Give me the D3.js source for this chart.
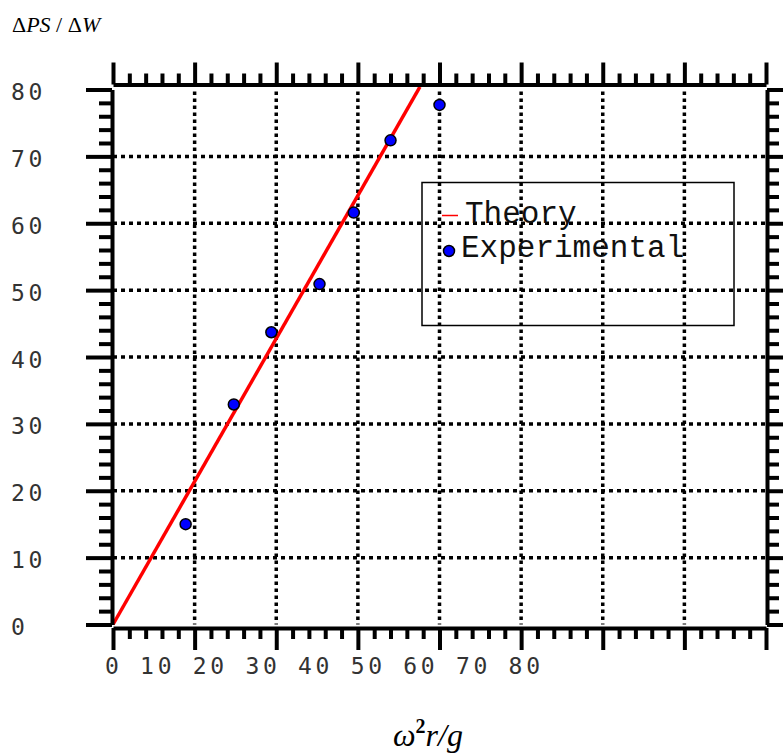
<!DOCTYPE html>
<head>
  <meta charset="utf-8">
  <script src="https://d3js.org/d3.v7.min.js"></script>
  <style>
    body { margin:0; background:#fff; }
    svg { display:block; }
  </style>
</head>
<body>
<div id="chart"></div>
<script>
  // data
  var expX = [8.9, 14.8, 19.4, 25.3, 29.5, 34.0, 40.0];
  var expY = [15.0, 32.9, 43.7, 50.9, 61.6, 72.4, 77.7];
  var theoryX = [0, 37.6];
  var theoryY = [0, 80.4];
  var xTickLabels = ["0","10","20","30","40","50","60","70","80"];
  var yTickLabels = ["0","10","20","30","40","50","60","70","80"];
  var legendNames = ["Theory", "Experimental"];

  var width = 783, height = 756;
  var x = d3.scaleLinear().domain([0, 80]).range([113, 766]);
  var y = d3.scaleLinear().domain([0, 80]).range([624.5, 89.5]);

  var svg = d3.select("#chart").append("svg")
    .attr("width", width)
    .attr("height", height);

  var majors = d3.range(0, 81, 10);
  var minors = d3.range(0, 81, 2).filter(function(d){ return d % 10 !== 0; });

  //gridlines
  svg.append("g").selectAll("line")
    .data(majors.slice(1, -1))
    .enter().append("line")
    .attr("x1", function(d){ return x(d); })
    .attr("x2", function(d){ return x(d); })
    .attr("y1", y(80) + 2)
    .attr("y2", y(0))
    .attr("stroke", "#000")
    .attr("stroke-width", 3.5)
    .attr("stroke-dasharray", "3.5,3.5");
  svg.append("g").selectAll("line")
    .data(majors.slice(1, -1))
    .enter().append("line")
    .attr("x1", x(0))
    .attr("x2", x(80))
    .attr("y1", function(d){ return y(d); })
    .attr("y2", function(d){ return y(d); })
    .attr("stroke", "#000")
    .attr("stroke-width", 3.5)
    .attr("stroke-dasharray", "4,4");

  //theory line
  var line = d3.line()
    .x(function(d){ return x(d[0]); })
    .y(function(d){ return y(d[1]); });
  svg.append("path")
    .attr("d", line(d3.zip(theoryX, theoryY)))
    .attr("stroke", "#ff0000")
    .attr("stroke-width", 3.5)
    .attr("fill", "none");

  //points
  svg.append("g").selectAll("circle")
    .data(d3.zip(expX, expY))
    .enter().append("circle")
    .attr("cx", function(d){ return x(d[0]); })
    .attr("cy", function(d){ return y(d[1]); })
    .attr("r", 5.5)
    .attr("fill", "#0000ff")
    .attr("stroke", "#000")
    .attr("stroke-width", 1.5);

  //legend
  var lg = svg.append("g");
  lg.append("rect")
    .attr("x", 422).attr("y", 182.5)
    .attr("width", 312).attr("height", 143)
    .attr("fill", "none").attr("stroke", "#000").attr("stroke-width", 1.5);
  lg.append("line")
    .attr("x1", 442).attr("x2", 458).attr("y1", 215.5).attr("y2", 215.5)
    .attr("stroke", "#ff0000").attr("stroke-width", 1.5);
  lg.append("circle")
    .attr("cx", 449).attr("cy", 251).attr("r", 5.5)
    .attr("fill", "#0000ff").attr("stroke", "#000").attr("stroke-width", 1.5);
  lg.selectAll("text")
    .data(legendNames)
    .enter().append("text")
    .attr("x", function(d, i){ return i === 0 ? 465 : 461; })
    .attr("y", function(d, i){ return i === 0 ? 223 : 257; })
    .attr("font-family", "Liberation Mono, monospace")
    .attr("font-size", "31px")
    .attr("fill", "#111")
    .text(function(d){ return d; });

  //axes: major + minor ticks on all four sides
  function styleAxis(g) {
    g.selectAll("text").remove();
    g.selectAll("path,line").attr("stroke", "#000").attr("stroke-width", 4);
  }
  function addAxis(axisFn, scale, vals, size, transform, domain) {
    var g = svg.append("g")
      .attr("transform", transform)
      .call(axisFn(scale).tickValues(vals).tickSize(size).tickSizeOuter(0).tickFormat(""));
    styleAxis(g);
    if (!domain) g.select(".domain").remove();
    return g;
  }
  // bottom
  addAxis(d3.axisBottom, x, majors, 22, "translate(0," + (y(0) + 3.5) + ")", true);
  addAxis(d3.axisBottom, x, minors, 11, "translate(0," + (y(0) + 3.5) + ")", false);
  // top
  addAxis(d3.axisTop, x, majors, 22, "translate(0," + (y(80) - 5) + ")", true);
  addAxis(d3.axisTop, x, minors, 11, "translate(0," + (y(80) - 5) + ")", false);
  // left
  addAxis(d3.axisLeft, y, majors, 26, "translate(" + (x(0) - 1) + ",0)", true);
  addAxis(d3.axisLeft, y, minors, 13, "translate(" + (x(0) - 1) + ",0)", false);
  // right
  addAxis(d3.axisRight, y, majors, 26, "translate(" + (x(80) + 1) + ",0)", true);
  addAxis(d3.axisRight, y, minors, 12, "translate(" + (x(80) + 1) + ",0)", false);

  //tick labels
  svg.append("g").selectAll("text")
    .data(yTickLabels)
    .enter().append("text")
    .attr("x", 11)
    .attr("y", function(d){ return y(+d) + 10.5; })
    .attr("font-family", "DejaVu Sans Mono, monospace")
    .attr("font-size", "23px")
    .attr("letter-spacing", "3.7px")
    .attr("fill", "#333")
    .text(function(d){ return d; });
  svg.append("text")
    .attr("x", 105)
    .attr("y", 674)
    .attr("font-family", "DejaVu Sans Mono, monospace")
    .attr("font-size", "23px")
    .attr("letter-spacing", "3.7px")
    .attr("fill", "#333")
    .attr("xml:space", "preserve")
    .style("white-space", "pre")
    .text(xTickLabels.join(" "));

  //axis titles
  var yt = svg.append("text")
    .attr("x", 12).attr("y", 32)
    .attr("font-family", "Liberation Serif, serif")
    .attr("font-size", "22px")
    .attr("fill", "#000");
  yt.append("tspan").text("Δ");
  yt.append("tspan").attr("font-style", "italic").text("PS");
  yt.append("tspan").text(" / Δ");
  yt.append("tspan").attr("font-style", "italic").text("W");

  var xt = svg.append("text")
    .attr("x", 393).attr("y", 746)
    .attr("font-family", "Liberation Serif, serif")
    .attr("font-size", "32px")
    .attr("fill", "#000");
  xt.append("tspan").attr("font-style", "italic").text("ω");
  xt.append("tspan").attr("font-size", "20px").attr("font-weight", "bold").attr("dy", -13).text("2");
  xt.append("tspan").attr("font-style", "italic").attr("dy", 13).text("r/g");
</script>
</body>
